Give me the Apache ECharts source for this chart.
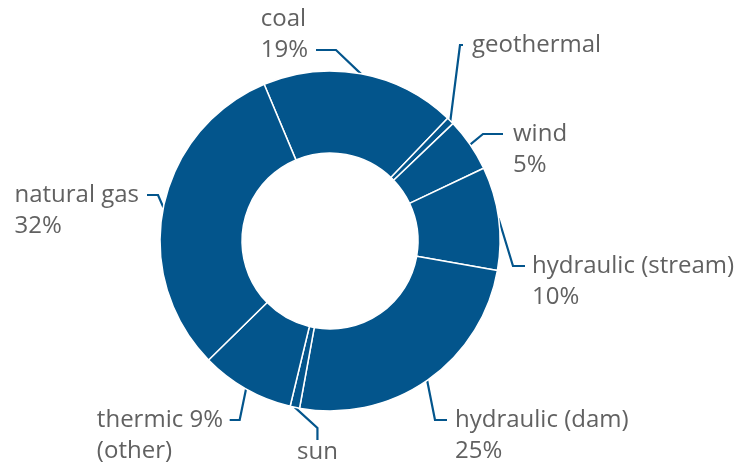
<!DOCTYPE html>
<html>
<head>
<meta charset="utf-8">
<script src="https://cdn.jsdelivr.net/npm/echarts@6/dist/echarts.min.js"></script>
<style>
  html, body { margin: 0; padding: 0; background: #fff; }
  #energyMix { width: 744px; height: 471px; }
</style>
</head>
<body>
<div id="energyMix"></div>
<script>
const sources = ['coal', 'geothermal', 'wind', 'hydraulic (stream)', 'hydraulic (dam)', 'sun', 'thermic', 'natural gas'];
const shares = [18.5, 0.7, 5.1, 9.8, 25.1, 0.9, 8.9, 31.0];
const labelTexts = [
  ['coal', '19%'],
  ['geothermal'],
  ['wind', '5%'],
  ['hydraulic (stream)', '10%'],
  ['hydraulic (dam)', '25%'],
  ['sun'],
  ['thermic 9%', '(other)'],
  ['natural gas', '32%'],
];

const BLUE = '#03558c';
const GREY = '#616161';

// label placement; the leader is drawn by echarts to the middle of the text block.
// x is the block edge, gap is the space between leader end and text,
// lead says which text line the leader should point at
const labelSpots = [
  { x: 316, y: 50, align: 'right', gap: 8, len2: 20, lead: 'last' },
  { x: 463, y: 45, align: 'left', gap: 9, len2: 3, lead: null },
  { x: 503, y: 134, align: 'left', gap: 10, len2: 20, lead: 'first' },
  { x: 525, y: 266, align: 'left', gap: 7, len2: 12, lead: 'first' },
  { x: 447, y: 420, align: 'left', gap: 8, len2: 12, lead: 'first' },
  { x: 297, y: 452, align: 'left', gap: 0, len2: 12, lead: null },
  { x: 225, y: 420, align: 'right', gap: 2, len2: 10, lead: 'first' },
  { x: 147, y: 195, align: 'right', gap: 8, len2: 11, lead: 'first' },
];

function labelText(i) {
  const s = labelSpots[i];
  const lines = labelTexts[i].map((t) => {
    if (!s.gap) return '{t|' + t + '}';
    return s.align === 'left' ? '{g' + i + '| }{t|' + t + '}' : '{t|' + t + '}{g' + i + '| }';
  });
  // a blank line keeps the chosen line in the middle of the block
  if (s.lead === 'first') lines.unshift('{t| }');
  if (s.lead === 'last') lines.push('{t| }');
  return lines.join('\n');
}

const rich = {
  t: {
    align: 'left',
    fontFamily: 'Open Sans',
    fontSize: 24,
    lineHeight: 31,
    color: GREY,
  },
};
labelSpots.forEach((s, i) => {
  rich['g' + i] = { align: 'left', width: s.gap, fontSize: 24, lineHeight: 31 };
});

const chart = echarts.init(document.getElementById('energyMix'));

const option = {
  animation: false,
  series: [
    {
      type: 'pie',
      center: [330, 241],
      radius: [88, 170],
      startAngle: 112.8,
      avoidLabelOverlap: false,
      itemStyle: {
        color: BLUE,
        borderColor: '#fff',
        borderWidth: 1.5,
      },
      emphasis: { disabled: true },
      label: {
        show: true,
        position: 'outside',
        formatter: (p) => labelText(p.dataIndex),
        rich: rich,
      },
      labelLine: {
        show: true,
        lineStyle: { color: BLUE, width: 2.2 },
      },
      labelLayout: (params) => {
        const s = labelSpots[params.dataIndex];
        return { x: s.x, y: s.y, align: s.align, verticalAlign: 'middle' };
      },
      data: sources.map((name, i) => ({
        name: name,
        value: shares[i],
        labelLine: {
          length2: labelSpots[i].len2,
          lineStyle: { color: BLUE, width: 2.2 },
        },
      })),
    },
  ],
};

chart.setOption(option);
</script>
</body>
</html>
